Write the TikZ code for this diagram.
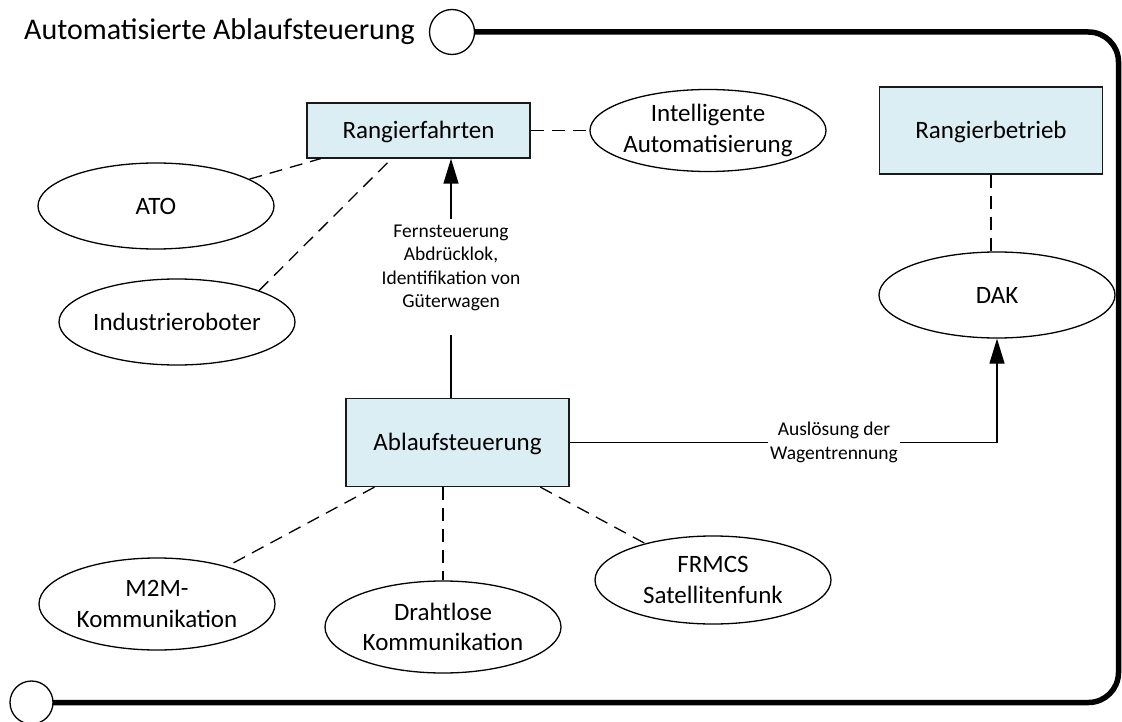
\documentclass[tikz,border=0pt]{standalone}
\usepackage{fontspec}
\setmainfont{Carlito}
\usetikzlibrary{shapes.geometric,arrows.meta,calc,backgrounds}
\definecolor{boxfill}{HTML}{DAEEF3}
\definecolor{ink}{HTML}{1A1A1A}
\begin{document}
\begin{tikzpicture}[x=1pt,y=-1pt,
  stepbox/.style={draw=ink, line width=1.3pt, fill=boxfill, minimum width=223pt,
    minimum height=88pt, inner sep=0pt, text height=16pt, text depth=0pt,
    font=\fontsize{25}{30.5}\selectfont},
  oval/.style={ellipse, draw=black, line width=1.3pt, fill=white, minimum width=236pt,
    minimum height=86pt, inner sep=-6pt, align=center,
    font=\fontsize{25}{30.5}\selectfont},
  link/.style={line width=1.3pt, dash pattern=on 13pt off 8pt},
  flow/.style={line width=1.3pt},
  tip/.style={-{Triangle[length=25pt,width=15pt]}},
  note/.style={fill=white, align=center, inner sep=2pt,
    font=\fontsize{19.5}{23.5}\selectfont},
  frameline/.style={line width=5.5pt},
  knob/.style={circle, draw=black, line width=1.3pt, fill=white, inner sep=0pt}
]
\useasboundingbox (0,0) rectangle (1122,722);

% title and the two end knobs of the frame
\node[anchor=base west, inner sep=0pt, font=\fontsize{30}{36}\selectfont] (title) at (24,40)
  {Automatisierte Ablaufsteuerung};
\node[knob, minimum size=45pt] (k1) at (452,32) {};
\node[knob, minimum size=43pt] (k2) at (31.5,702.5) {};
\begin{scope}[on background layer]
  \draw[frameline, rounded corners=30pt] (k1.center) -- (1118.5,32) -- (1118.5,702.5) -- (k2.center);
\end{scope}

% process boxes
\node[stepbox, minimum height=55pt] (rf) at (418.5,130.5) {Rangierfahrten};
\node[stepbox] (abl) at (457.5,442.5) {Ablaufsteuerung};
\node[stepbox, minimum height=87pt] (rb) at (991,130.5) {Rangierbetrieb};

% technologies
\node[oval] (ato) at (156,206) {ATO};
\node[oval] (ir) at (177,322) {Industrieroboter};
\node[oval, minimum height=82pt] (ia) at (708,130.5) {Intelligente\\Automatisierung};
\node[oval] (dak) at (997,295) {DAK};
\node[oval, minimum height=92pt] (m2m) at (157,604) {M2M-\\Kommunikation};
\node[oval, minimum height=92pt] (dk) at (443,627) {Drahtlose\\Kommunikation};
\node[oval, minimum height=88pt] (fr) at (713,580) {FRMCS\\Satellitenfunk};

% associations
\draw[link] (ato) -- (rf);
\draw[link] (ir.21) -- ($(rf.south west)!0.38!(rf.south east)$);
\draw[link] (rf.east) -- (ia.west);
\draw[link] (rb.south) -- (rb.south |- dak.north);
\draw[link] (abl) -- (m2m);
\draw[link] (abl.south -| dk.north) -- (dk.north);
\draw[link] (abl) -- (fr);

% control flows
\node[note] (lup) at (451,268) {Fernsteuerung\\Abdrücklok,\\Identifikation von\\Güterwagen};
\draw[flow] (abl.north -| lup) -- ([yshift=-22pt]lup.south);
\draw[flow, tip] ([yshift=4pt]lup.north) -- (rf.south -| lup);

\node[note] (lh) at (834,442.5) {Auslösung der\\Wagentrennung};
\draw[flow] (abl.east) -- (lh.west);
\draw[flow, tip] (lh.east) -- (lh.east -| dak.south) -- (dak.south);
\end{tikzpicture}
\end{document}
